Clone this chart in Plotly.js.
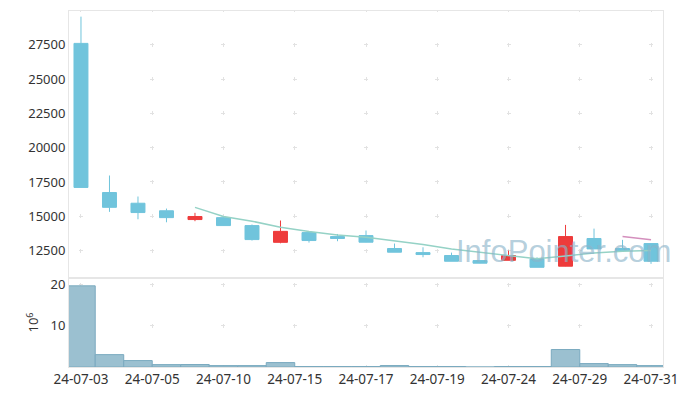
<!DOCTYPE html>
<html><head><meta charset="utf-8">
<script src="https://cdn.plot.ly/plotly-3.0.1.min.js"></script>
<style>html,body{margin:0;padding:0;background:#fff}#chart{width:691px;height:396px}</style>
</head><body><div id="chart"></div>
<script>
const dates = ['24-07-03','24-07-04','24-07-05','24-07-08','24-07-09','24-07-10','24-07-11','24-07-12','24-07-15','24-07-16','24-07-17','24-07-18','24-07-19','24-07-22','24-07-23','24-07-24','24-07-25','24-07-26','24-07-29','24-07-30','24-07-31'];
const openP  = [27600,16730,15950,15400,14760,14900,14320,13100,13810,13520,13590,12650,12350,12140,11770,11790,11900,11360,13380,12650,13010];
const highP  = [29550,17970,16440,15560,15250,14920,14400,14690,13830,13710,13960,13010,12740,12350,11780,12500,12010,14370,14100,13280,13010];
const lowP   = [17100,15320,14780,14560,14640,14300,13230,13030,13080,13180,13100,12380,12010,11720,11570,11790,11280,11350,12620,12490,11530];
const closeP = [17100,15650,15270,14900,14980,14320,13300,13900,13230,13380,13110,12380,12210,11720,11580,12140,11280,13520,12620,12500,11720];
const volumeM = [19.7,3.0,1.56,0.58,0.6,0.34,0.34,1.07,0.12,0.12,0.12,0.35,0.12,0.12,0,0.12,0.12,4.24,0.83,0.58,0.34];
const ma5  = [null,null,null,null,15650,14980,14640,14200,13890,13640,13470,13230,12940,12620,12380,12140,11900,12110,12330,12450,12500];
const ma20 = [null,null,null,null,null,null,null,null,null,null,null,null,null,null,null,null,null,null,null,13520,13280];
const tickPos = [0,2.5,5,7.5,10,12.5,15,17.5,20];
const tickLabels = ['24-07-03','24-07-05','24-07-10','24-07-15','24-07-17','24-07-19','24-07-24','24-07-29','24-07-31'];

const xs = dates.map((d,i)=>i);
const font = "'Noto Sans', 'Noto Sans CJK KR', sans-serif";

const traces = [
  {type:'candlestick', x:xs, open:openP, high:highP, low:lowP, close:closeP, xaxis:'x2', yaxis:'y2',
   increasing:{line:{color:'#ee3b3b',width:1}, fillcolor:'#ee3b3b'},
   decreasing:{line:{color:'#70c4dc',width:1}, fillcolor:'#70c4dc'},
   whiskerwidth:0, showlegend:false, hoverinfo:'none'},
  {type:'scatter', mode:'lines', x:xs, y:ma5, xaxis:'x2', yaxis:'y2', line:{color:'#95d2c6',width:1.5}, showlegend:false, hoverinfo:'none'},
  {type:'scatter', mode:'lines', x:xs, y:ma20, xaxis:'x2', yaxis:'y2', line:{color:'#d48fbd',width:1.5}, showlegend:false, hoverinfo:'none'},
  {type:'bar', x:xs, y:volumeM, xaxis:'x', yaxis:'y', marker:{color:'#9bc0d0', line:{color:'#7aaabf',width:1}}, showlegend:false, hoverinfo:'none'}
];

const gridC = '#e2e2e2';
const layout = {
  width:691, height:396,
  margin:{l:69, r:28, t:11, b:29},
  paper_bgcolor:'#fff', plot_bgcolor:'#fff',
  font:{family:font, size:13, color:'#333'},
  bargap:0, boxgap:0.3,
  xaxis:{domain:[0,1], anchor:'y', range:[-0.42,20.42], tickmode:'array', tickvals:tickPos, ticktext:tickLabels,
    showline:true, mirror:true, linecolor:'#e6e6e6', linewidth:1, zeroline:false, ticks:'',
    showgrid:true, gridcolor:gridC, gridwidth:1, griddash:'0px,4.6px,4px,32.6px',
    tickfont:{size:13.5, color:'#333'}, rangeslider:{visible:false}},
  xaxis2:{domain:[0,1], anchor:'y2', matches:'x', range:[-0.42,20.42], tickmode:'array', tickvals:tickPos, ticktext:tickLabels,
    showticklabels:false, showline:true, mirror:true, linecolor:'#e6e6e6', linewidth:1, zeroline:false, ticks:'',
    showgrid:true, gridcolor:gridC, gridwidth:1, griddash:'1.45px,30.3px,2.55px,0px', rangeslider:{visible:false}},
  yaxis:{domain:[0,0.25], anchor:'x', range:[0,21.6], tickmode:'array', tickvals:[10,20], ticktext:['10','20'],
    showline:true, mirror:true, linecolor:'#e6e6e6', zeroline:false, ticks:'',
    showgrid:true, gridcolor:gridC, gridwidth:1, griddash:'0px,10px,4px,57.25px',
    title:{text:'10<sup>6</sup>', font:{size:13,color:'#333'}, standoff:8}},
  yaxis2:{domain:[0.25,1], anchor:'x2', range:[10500,29960], tick0:12500, dtick:2500, tickformat:'d',
    showline:true, mirror:true, linecolor:'#e6e6e6', zeroline:false, ticks:'',
    showgrid:true, gridcolor:gridC, gridwidth:1, griddash:'0px,10px,4px,57.25px'},
  annotations:[{text:'InfoPointer.com', xref:'paper', yref:'paper', x:0.833, y:0.325, xanchor:'center', yanchor:'middle',
    showarrow:false, font:{family:"'Liberation Sans', sans-serif", size:31, color:'rgba(140,180,202,0.65)'}}]
};
Plotly.newPlot('chart', traces, layout, {displayModeBar:false, staticPlot:true});
</script></body></html>
